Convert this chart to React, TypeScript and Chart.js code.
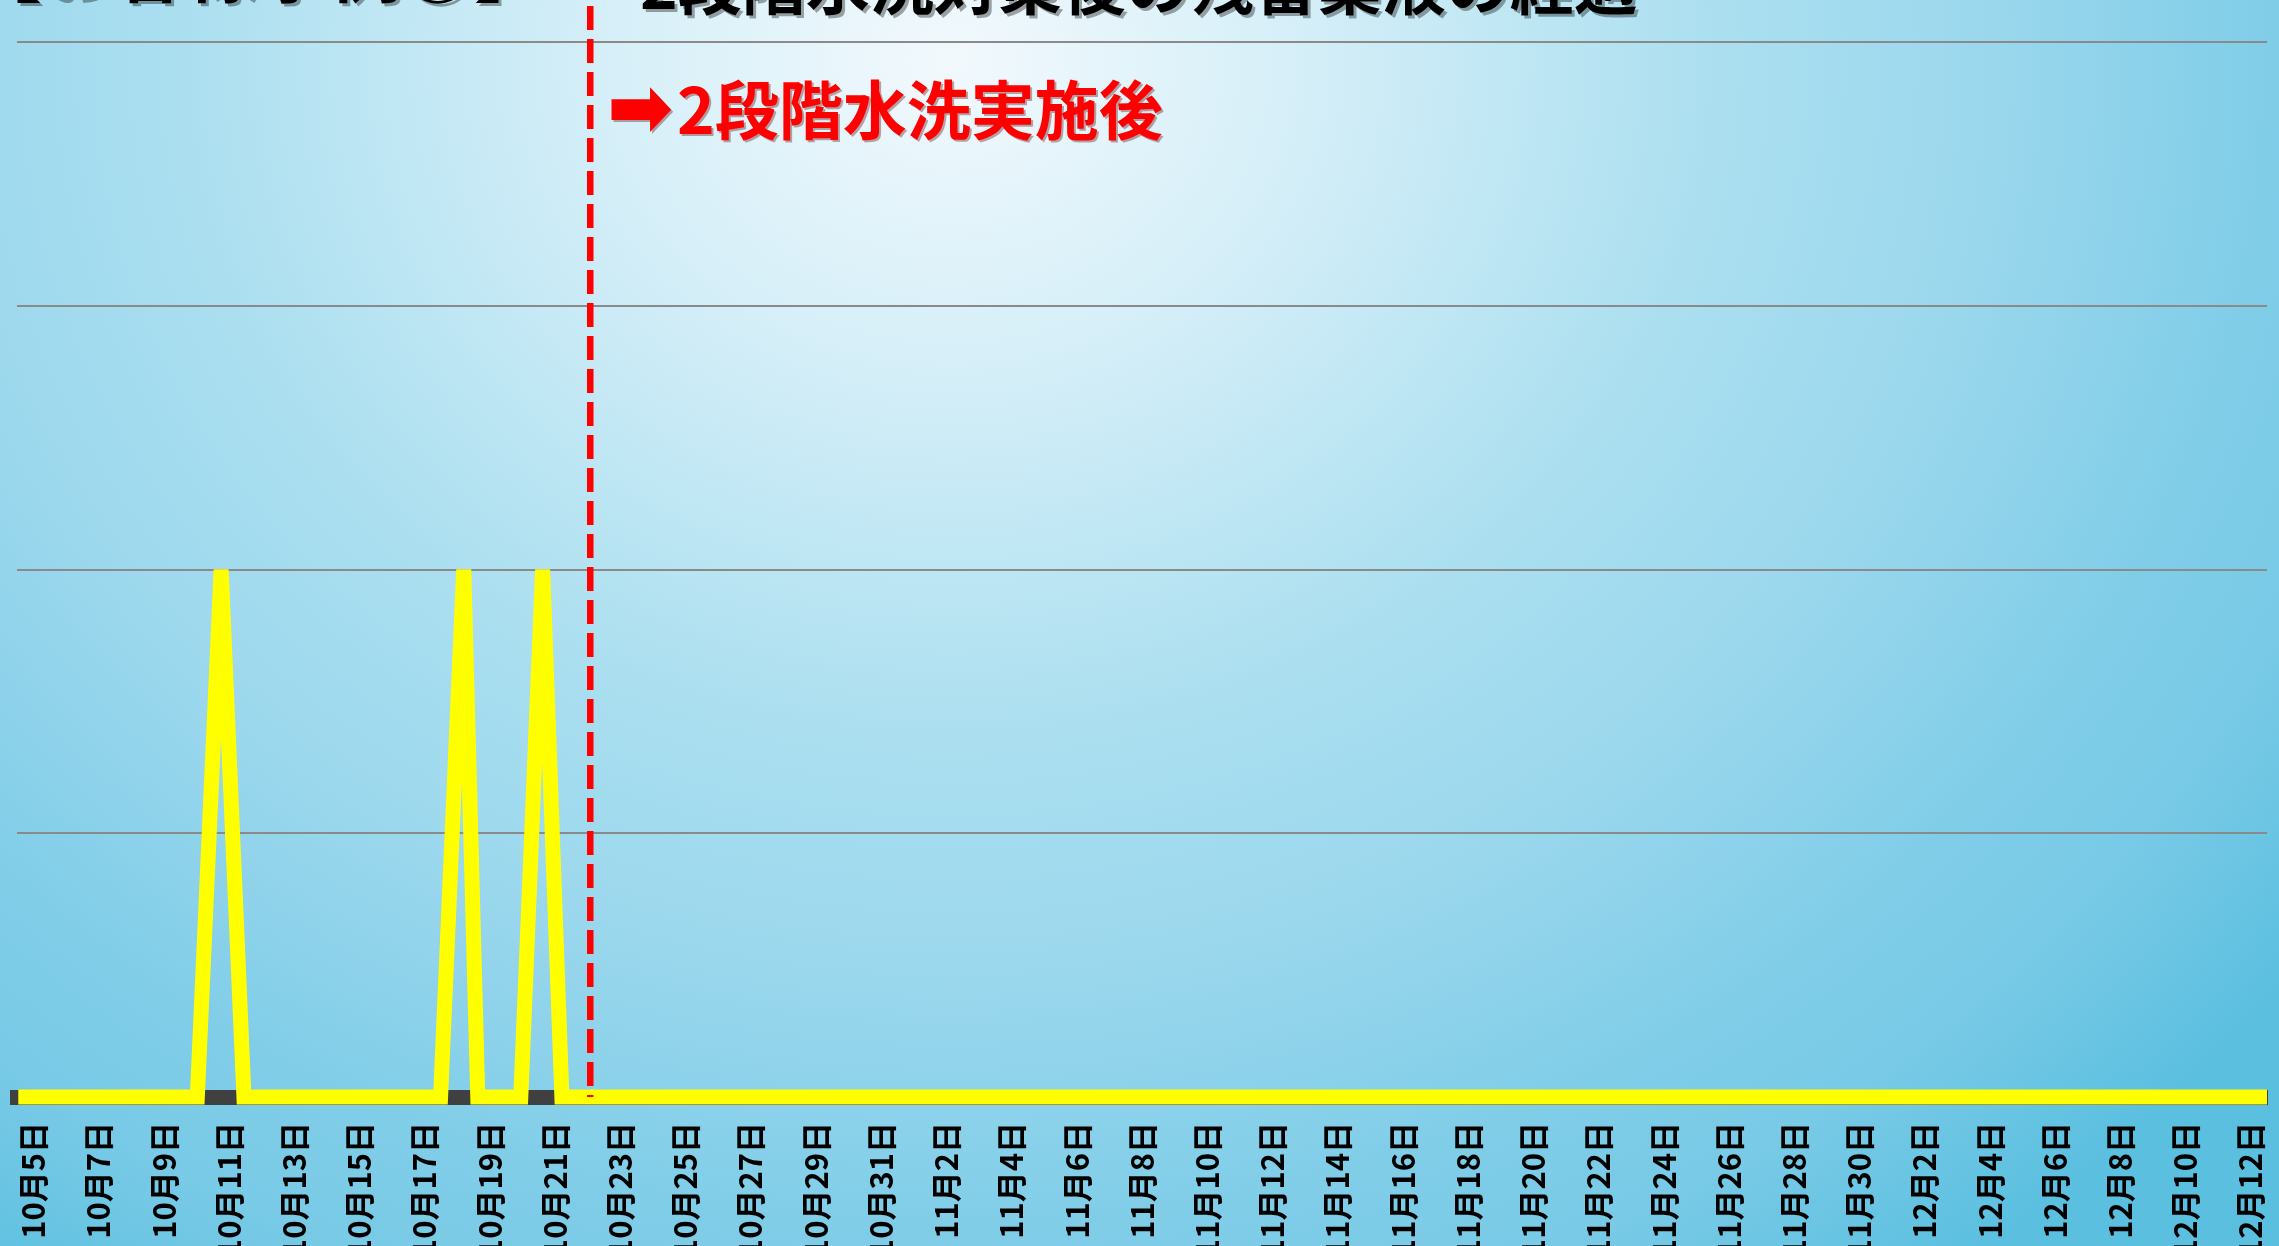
import { useEffect, useRef } from "react";
import { Chart, registerables } from "chart.js";

Chart.register(...registerables);

// ---- data ----
const monthRanges: [number, number, number][] = [
  [10, 5, 31],
  [11, 1, 30],
  [12, 1, 12],
];
const dayLabels: string[] = [];
monthRanges.forEach(([m, from, to]) => {
  for (let d = from; d <= to; d++) dayLabels.push(`${m}月${d}日`);
});

// residual chemical series (x = day index incl. time of day, y = value)
const residueX = [-0.46, 5.03, 5.76, 6.46, 12.49, 13.2, 13.63, 14.95, 15.62, 16.21, 68.5];
const residueY = [0, 0, 2, 0, 0, 2, 0, 0, 2, 0, 0];

// day index where 2-stage rinsing started
const WASH_START_DAY = 17.08;

const Y_MIN = 0;
const Y_MAX = 4;

const TITLE_LEFT = "【お客様事例③】";
const TITLE_MAIN = "2段階水洗対策後の残留薬液の経過";
const NOTE_ARROW = "➡";
const NOTE_TEXT = "2段階水洗実施後";

const CJK = '"Noto Sans CJK JP", "DejaVu Sans", sans-serif';

const overlayPlugin = {
  id: "overlay",
  afterDatasetsDraw(chart: any) {
    const { ctx, chartArea, scales } = chart;
    const x = scales.x.getPixelForValue(WASH_START_DAY);
    ctx.save();
    ctx.strokeStyle = "#ff0000";
    ctx.lineWidth = 6.5;
    ctx.setLineDash([24, 9]);
    ctx.beginPath();
    ctx.moveTo(x, 6);
    ctx.lineTo(x, chartArea.bottom);
    ctx.stroke();
    ctx.restore();
  },
  afterDraw(chart: any) {
    const { ctx } = chart;
    ctx.save();
    ctx.textBaseline = "alphabetic";
    ctx.textAlign = "left";
    // titles (mostly cut off at the top)
    ctx.shadowColor = "rgba(0,0,0,0.35)";
    ctx.shadowOffsetX = 3;
    ctx.shadowOffsetY = 3;
    ctx.fillStyle = "#000000";
    ctx.font = `bold 72px ${CJK}`;
    ctx.fillText(TITLE_LEFT, -30, -4);
    ctx.font = `bold 64px ${CJK}`;
    ctx.fillText(TITLE_MAIN, 640, 9);
    // red note
    ctx.shadowColor = "rgba(80,0,0,0.35)";
    ctx.shadowOffsetX = 2;
    ctx.shadowOffsetY = 2;
    ctx.fillStyle = "#ff0000";
    // arrow glyph, fitted to its box
    ctx.font = `bold 100px "DejaVu Sans", ${CJK}`;
    const m = ctx.measureText(NOTE_ARROW);
    const gw = m.actualBoundingBoxRight + m.actualBoundingBoxLeft || 80;
    const gh = m.actualBoundingBoxAscent + m.actualBoundingBoxDescent || 40;
    const boxL = 611, boxT = 87, boxW = 61, boxH = 46;
    ctx.save();
    ctx.translate(boxL, boxT);
    ctx.scale(boxW / gw, boxH / gh);
    ctx.fillText(NOTE_ARROW, m.actualBoundingBoxLeft, m.actualBoundingBoxAscent);
    ctx.restore();
    ctx.font = `bold 64px ${CJK}`;
    ctx.fillText(NOTE_TEXT, 677, 134);
    ctx.restore();
  },
};

export default function App() {
  const ref = useRef<HTMLCanvasElement | null>(null);

  useEffect(() => {
    const canvas = ref.current;
    if (!canvas) return;
    const chart = new Chart(canvas, {
      type: "line",
      data: {
        datasets: [
          {
            label: "残留薬液",
            data: residueX.map((x, i) => ({ x, y: residueY[i] })),
            borderColor: "#ffff00",
            backgroundColor: "#ffff00",
            borderWidth: 15,
            pointRadius: 0,
            pointHoverRadius: 0,
            tension: 0,
            fill: false,
            clip: false as any,
          },
        ],
      },
      options: {
        responsive: false,
        animation: false,
        events: [],
        layout: { padding: { left: 17, right: 12, top: 42, bottom: 0 } },
        plugins: {
          legend: { display: false },
          tooltip: { enabled: false },
          title: { display: false },
        },
        scales: {
          x: {
            type: "linear",
            min: -0.5,
            max: 68.5,
            bounds: "data",
            afterBuildTicks: (axis: any) => {
              axis.ticks = dayLabels.map((_, i) => ({ value: i }));
            },
            afterFit: (axis: any) => {
              axis.height = 149;
              axis.paddingLeft = 0;
              axis.paddingRight = 0;
            },
            grid: { display: false, drawTicks: false },
            border: { display: true, color: "#404040", width: 15 },
            ticks: {
              autoSkip: false,
              minRotation: 90,
              maxRotation: 90,
              padding: 25,
              color: "#000000",
              font: { family: '"Noto Sans CJK JP", "DejaVu Sans", sans-serif', size: 31, weight: "bold" },
              callback: (value: any) => {
                const i = Math.round(Number(value));
                return i % 2 === 0 ? dayLabels[i] ?? "" : "";
              },
            },
          },
          y: {
            min: Y_MIN,
            max: Y_MAX,
            afterFit: (axis: any) => {
              axis.width = 0;
              axis.paddingTop = 0;
              axis.paddingBottom = 0;
            },
            grid: { color: "#8a8a8a", lineWidth: 2, drawTicks: false },
            border: { display: false },
            ticks: { display: false, stepSize: 1 },
          },
        },
      },
      plugins: [overlayPlugin],
    } as any);
    return () => chart.destroy();
  }, []);

  return (
    <div
      style={{
        position: "fixed",
        left: 0,
        top: 0,
        width: 2279,
        height: 1246,
        overflow: "hidden",
        background:
          "radial-gradient(ellipse 1700px 1500px at 950px 60px, #f2f9fd 0%, #d6eff8 20%, #abdff0 45%, #9cd8ed 60%, #80cde8 78%, #78cae6 87%, #5bbfe0 100%)",
      }}
    >
      <canvas ref={ref} width={2279} height={1246} style={{ display: "block" }} />
    </div>
  );
}
